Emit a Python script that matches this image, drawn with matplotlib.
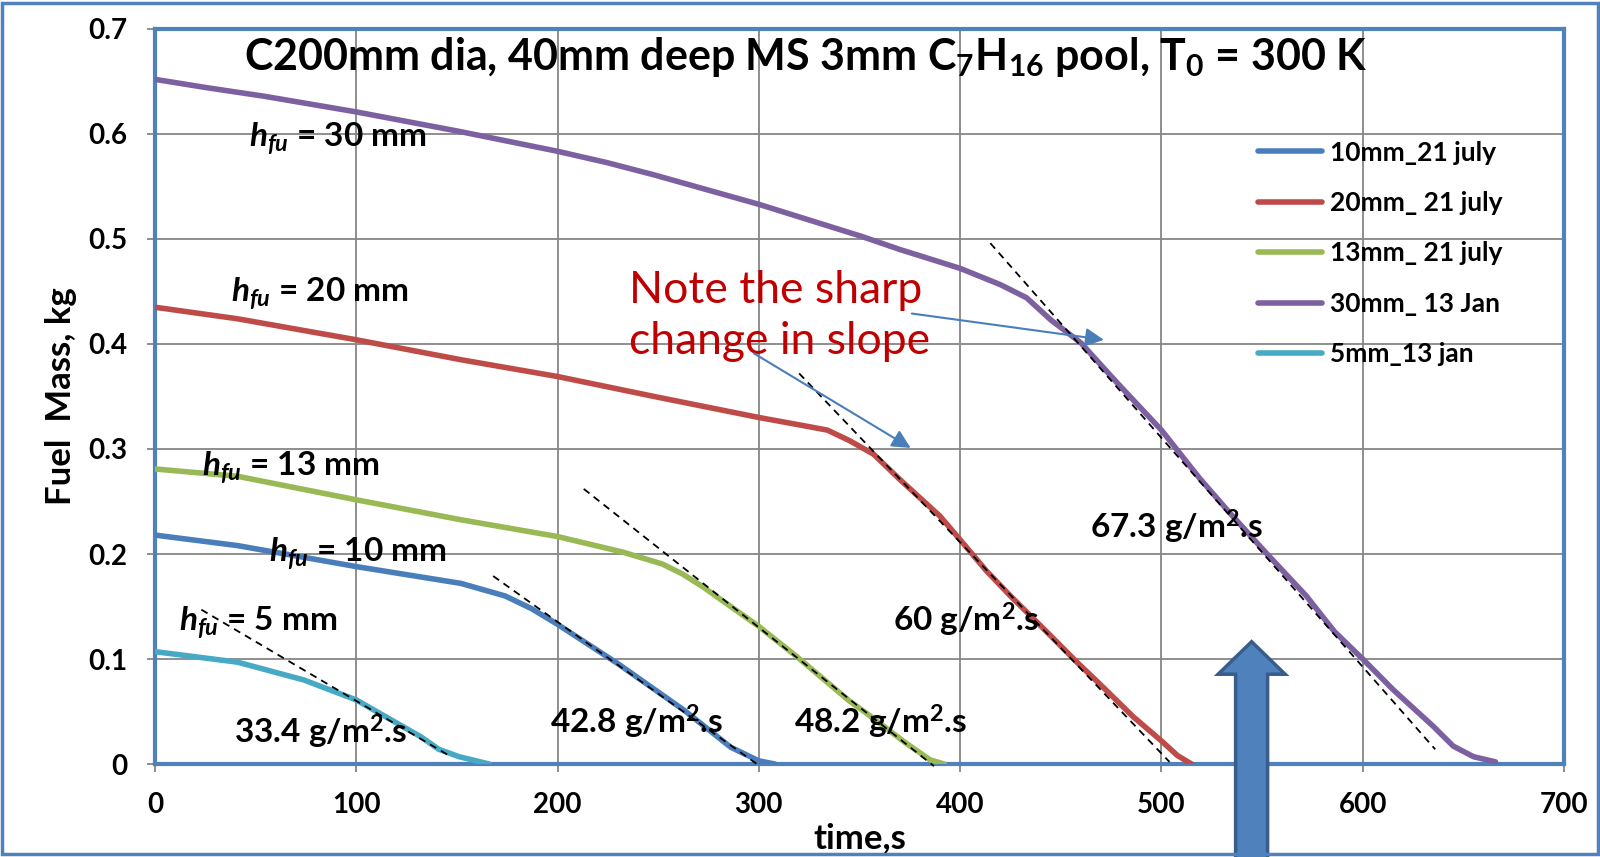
import numpy as np
import matplotlib
matplotlib.use("Agg")
import matplotlib.pyplot as plt
from matplotlib.patches import FancyArrow, Rectangle

plt.rcParams['font.family'] = ['Lato', 'DejaVu Sans']
plt.rcParams['font.weight'] = 'bold'
plt.rcParams['mathtext.fontset'] = 'custom'
plt.rcParams['mathtext.rm'] = 'Lato:bold'
plt.rcParams['mathtext.it'] = 'Lato:bold:italic'
plt.rcParams['mathtext.bf'] = 'Lato:bold'

# fuel mass vs time for each fuel depth
t_10 = [0, 41, 100, 152, 174, 187, 200, 230, 263, 286, 300, 308]
m_10 = [0.218, 0.208, 0.188, 0.172, 0.160, 0.148, 0.133, 0.0955, 0.051, 0.016, 0.003, 0.0]

t_20 = [0, 41, 100, 152, 200, 248, 300, 320, 334, 345, 357, 370, 390, 402, 413, 425,
        444, 458, 470, 486, 500, 508, 515]
m_20 = [0.435, 0.424, 0.404, 0.385, 0.369, 0.350, 0.330, 0.323, 0.318, 0.308, 0.295,
        0.271, 0.236, 0.209, 0.184, 0.160, 0.124, 0.097, 0.075, 0.045, 0.022, 0.008, 0.0]

t_13 = [0, 41, 100, 152, 200, 232, 252, 262, 272, 300, 319, 345, 353, 373, 385, 392]
m_13 = [0.281, 0.274, 0.2516, 0.2326, 0.2166, 0.202, 0.1905, 0.181, 0.169, 0.131,
        0.102, 0.060, 0.049, 0.020, 0.004, 0.0]

t_30 = [0, 26, 54, 100, 151, 200, 225, 248, 300, 351, 370, 400, 420, 433, 445, 460,
        478, 500, 519, 534, 552, 572, 586, 600, 615, 635, 645, 655, 666]
m_30 = [0.652, 0.644, 0.636, 0.621, 0.6025, 0.5835, 0.5725, 0.561, 0.533, 0.5025, 0.490,
        0.472, 0.4565, 0.444, 0.423, 0.401, 0.363, 0.318, 0.272, 0.239, 0.201, 0.160,
        0.126, 0.100, 0.071, 0.036, 0.017, 0.007, 0.002]

t_5 = [0, 41, 74, 100, 121, 132, 141, 151, 166]
m_5 = [0.107, 0.097, 0.080, 0.061, 0.038, 0.026, 0.014, 0.007, 0.0]

series = [
    (t_10, m_10, '#4A7EBB', '10mm_21 july'),
    (t_20, m_20, '#BE4B48', '20mm_ 21 july'),
    (t_13, m_13, '#98B954', '13mm_ 21 july'),
    (t_30, m_30, '#7D60A0', '30mm_ 13 Jan'),
    (t_5, m_5, '#46AAC5', '5mm_13 jan'),
]

# tangent lines in the steady burning regime: (t0, m0, t1, m1)
tangents = [
    (23, 0.147, 147, 0.007),
    (168, 0.179, 299, 0.0),
    (213, 0.262, 387, -0.002),
    (320, 0.372, 504, 0.002),
    (415, 0.496, 636, 0.014),
]

# burning rate labels
rate_labels = ['33.4', '42.8', '48.2', '60', '67.3']
rate_pos = [(39.3, 0.031), (196, 0.040), (317.4, 0.040), (366.5, 0.137), (464.4, 0.226)]

depth_labels = ['30', '20', '13', '10', '5']
depth_pos = [(46.7, 0.595), (37.8, 0.448), (23.3, 0.282), (56.7, 0.200), (11.8, 0.134)]

fig = plt.figure(figsize=(16, 8.57), dpi=100)
ax = fig.add_axes([0.0969, 0.1085, 0.8806, 0.8577])

for t, m, c, lab in series:
    ax.plot(t, m, color=c, lw=4, label=lab, solid_capstyle='round',
            solid_joinstyle='round', zorder=3)

for t0, m0, t1, m1 in tangents:
    ax.plot([t0, t1], [m0, m1], color='black', ls=(0, (4, 3)), lw=1.3, zorder=4,
            clip_on=False)

for r, (x, y) in zip(rate_labels, rate_pos):
    ax.text(x, y, r + ' g/m$^2$.s', fontsize=24, fontweight='bold', va='center',
            ha='left', zorder=5)

for d, (x, y) in zip(depth_labels, depth_pos):
    ax.text(x, y, r'$h_{fu}$ = ' + d + ' mm', fontsize=24, fontweight='bold',
            va='center', ha='left', zorder=5)

ax.text(323, 0.673, r'C200mm dia, 40mm deep MS 3mm C$_7$H$_{16}$ pool, T$_0$ = 300 K',
        fontsize=31, fontweight='bold', ha='center', va='center', zorder=5)

ax.text(235.5, 0.427, 'Note the sharp\nchange in slope', fontsize=32,
        fontweight='normal', color='#C00000', ha='left', va='center',
        linespacing=1.3, zorder=5)

arrow_kw = dict(arrowstyle='-|>', color='#4A7EBB', lw=1.5, mutation_scale=28,
                shrinkA=0, shrinkB=0)
ax.annotate('', xy=(471.4, 0.404), xytext=(376, 0.429), arrowprops=arrow_kw, zorder=6)
ax.annotate('', xy=(375.4, 0.301), xytext=(297.6, 0.391), arrowprops=arrow_kw, zorder=6)

# big block arrow rising from below the axis
big = FancyArrow(544.8, -0.10, 0, 0.2165, width=15.9, head_width=33.3,
                 head_length=0.031, length_includes_head=True,
                 fc='#4F81BD', ec='#385D8A', lw=2.5, clip_on=False, zorder=7)
ax.add_patch(big)

ax.set_xlim(0, 700)
ax.set_ylim(0, 0.7)
ax.set_xticks(np.arange(0, 701, 100))
ax.set_yticks(np.arange(0, 0.71, 0.1))
ax.yaxis.set_major_formatter(plt.FuncFormatter(lambda v, p: f'{v:g}'))
ax.tick_params(axis='both', labelsize=20, length=6, width=1.3, color='#868686',
               pad=14)
for lbl in ax.get_xticklabels() + ax.get_yticklabels():
    lbl.set_fontweight('bold')

ax.grid(True, color='#868686', lw=1.3)
ax.set_axisbelow(True)
for s in ax.spines.values():
    s.set_color('#4F81BD')
    s.set_linewidth(3)

ax.set_xlabel('time,s', fontsize=25, fontweight='bold', labelpad=3)
ax.set_ylabel('Fuel  Mass, kg', fontsize=25, fontweight='bold', labelpad=8)

leg = ax.legend(loc='upper left', bbox_to_anchor=(0.783, 0.848), frameon=False,
                fontsize=19, handlelength=2.4, handletextpad=0.3, labelspacing=1.0,
                borderpad=0, borderaxespad=0)
for txt in leg.get_texts():
    txt.set_fontweight('bold')

fig.patches.append(Rectangle((0.0015, 0.003), 0.997, 0.994, transform=fig.transFigure,
                             fill=False, ec='#4F81BD', lw=2.5))

fig.savefig('out.png', dpi=100)
